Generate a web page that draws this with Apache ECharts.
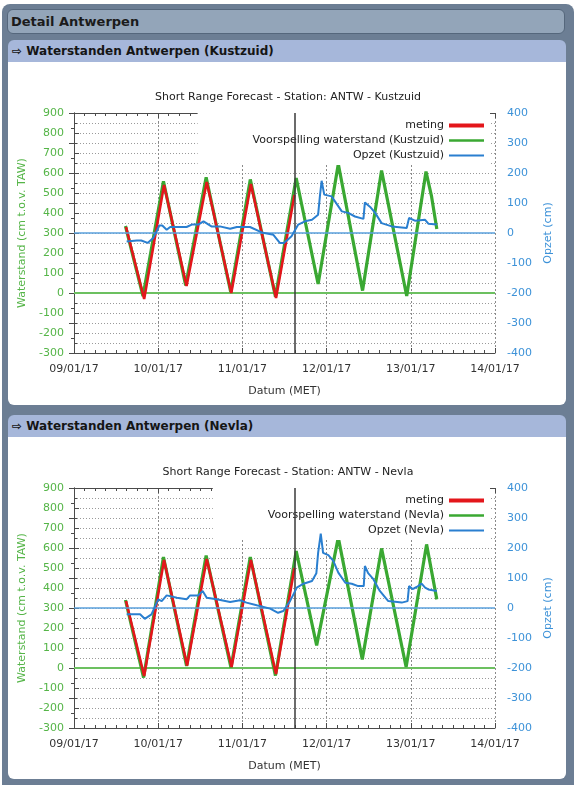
<!DOCTYPE html>
<html>
<head>
<meta charset="utf-8">
<script src="https://cdn.jsdelivr.net/npm/echarts@6/dist/echarts.min.js"></script>
<style>
  html, body { margin:0; padding:0; background:#ffffff; width:574px; height:785px; overflow:hidden; font-family:"DejaVu Sans", sans-serif; }
  .frame { position:absolute; left:2px; top:4px; width:572px; height:781px; background:#6c7e94; border-radius:8px 8px 0 0; }
  .hdr { position:absolute; left:7px; top:9px; width:558px; height:25px; background:#93a5b9; border:1px solid #55677c; border-radius:6px; font-weight:bold; font-size:13px; color:#1b1b1b; line-height:24px; padding-left:3px; box-sizing:border-box; }
  .sub { position:absolute; left:8px; width:558px; height:22px; background:#a6b7da; border-radius:6px 6px 0 0; font-weight:bold; font-size:12px; color:#151515; line-height:22px; padding-left:4px; box-sizing:border-box; }
  .panel { position:absolute; left:8px; width:558px; background:#ffffff; border-radius:0 0 6px 6px; }
  #chart { position:absolute; left:0; top:0; width:574px; height:785px; }
</style>
</head>
<body>
<div class="frame"></div>
<div class="hdr">Detail Antwerpen</div>
<div class="sub" style="top:40px;">&#8680; Waterstanden Antwerpen (Kustzuid)</div>
<div class="panel" style="top:62px;height:343px;"></div>
<div class="sub" style="top:415px;">&#8680; Waterstanden Antwerpen (Nevla)</div>
<div class="panel" style="top:437px;height:342px;"></div>
<div id="chart"></div>
<script>
// ---- tick labels ----
const dateLabels = ['09/01/17','10/01/17','11/01/17','12/01/17','13/01/17','14/01/17'];
const nowTime = '11 15:00';

// ---- Kustzuid ----
const kzMetingT = ['09 14:50','09 20:00','10 01:40','10 08:05','10 13:50','10 20:50','11 02:25','11 09:35','11 14:50'];
const kzMetingV = [330,-30,540,35,555,0,545,-25,490];
const kzVoorsT = ['09 14:40','09 19:40','10 01:30','10 07:50','10 13:40','10 20:40','11 02:15','11 09:25','11 15:20','11 21:35','12 03:20','12 10:15','12 15:40','12 22:50','13 04:20','13 05:55','13 07:25'];
const kzVoorsV = [335,-15,558,38,578,5,568,-18,575,45,645,12,612,-15,607,483,320];
const kzOpzetT = ['09 15:00','09 17:55','09 19:10','09 21:00','09 22:35','10 00:20','10 01:10','10 02:25','10 03:25','10 08:05','10 09:35','10 11:25','10 12:55','10 15:10','10 17:35','10 20:30','10 22:25','11 02:10','11 05:30','11 08:50','11 10:40','11 11:50','11 12:40','11 14:00','11 15:55','11 17:50','11 19:50','11 21:35','11 22:05','11 22:35','11 23:20','12 01:25','12 04:20','12 06:10','12 08:05','12 10:30','12 10:55','12 12:25','12 13:50','12 15:40','12 18:35','12 22:50','12 23:30','13 01:10','13 04:05','13 05:00','13 07:25'];
const kzOpzetV = [-28,-25,-25,-33,-17,25,25,11,20,20,28,28,39,22,22,14,20,20,2,-6,-33,-33,-25,-11,28,39,44,61,122,174,128,122,72,67,55,47,102,87,67,33,22,17,50,41,44,31,28];

// ---- Nevla ----
const nvMetingT = ['09 14:50','09 20:00','10 01:40','10 08:15','10 13:50','10 20:55','11 02:25','11 09:35','11 14:50'];
const nvMetingV = [335,-40,540,12,545,5,540,-30,500];
const nvVoorsT = ['09 14:40','09 19:50','10 01:30','10 08:05','10 13:40','10 20:45','11 02:15','11 09:25','11 15:20','11 21:10','12 03:20','12 10:10','12 15:40','12 22:40','13 04:30','13 07:25'];
const nvVoorsV = [340,-48,555,10,562,2,555,-38,585,113,652,43,598,5,618,343];
const nvOpzetT = ['09 15:00','09 18:50','09 20:10','09 22:05','10 00:00','10 01:00','10 02:25','10 05:20','10 08:05','10 09:05','10 11:25','10 12:40','10 13:50','10 16:40','10 20:30','10 23:20','11 01:10','11 04:05','11 07:55','11 10:10','11 11:40','11 12:10','11 13:35','11 15:30','11 17:25','11 19:50','11 21:05','11 21:35','11 22:20','11 23:00','12 00:30','12 01:55','12 03:20','12 05:20','12 07:10','12 09:00','12 10:35','12 10:55','12 11:50','12 13:20','12 15:10','12 17:35','12 21:25','12 23:05','12 23:30','13 00:30','13 01:40','13 03:05','13 04:05','13 05:00','13 07:25'];
const nvOpzetV = [-21,-21,-36,-21,29,23,42,34,29,42,42,57,34,29,20,26,18,9,-2,-16,-10,-12,23,68,81,90,116,184,248,184,176,157,118,84,81,73,73,140,116,96,57,23,18,23,73,63,70,81,68,62,57];

// hours since 09/01/17 00:00
function hrs(s){ const p = s.split(' '); const hm = p[1].split(':'); return (parseInt(p[0],10)-9)*24 + parseInt(hm[0],10) + parseInt(hm[1],10)/60; }
function pairs(T,V){ return T.map((t,i)=>[hrs(t),V[i]]); }

const FONT = 'DejaVu Sans';
const GREEN = '#3aa832', RED = '#e3161b', BLUE = '#2a7fd0';
const GREEN_TXT = '#55b548', BLUE_TXT = '#3d92d8';
const AX = '#4a4a4a';
const ICON_RED = 'path://M0,0M0,3L35,3L35,7L0,7ZM35,10';
const ICON_GREEN = 'path://M0,0M0,3.7L35,3.7L35,6.3L0,6.3ZM35,10';
const ICON_BLUE = 'path://M0,0M0,4L35,4L35,6L0,6ZM35,10';

function xAx(gi, bottom){
  return {
    type:'value', gridIndex:gi, min:0, max:120, interval:24, position: bottom?'bottom':'top',
    axisLine:{show:true, onZero:false, lineStyle:{color:AX, width:1}},
    axisTick:{show:true, inside:true, length:5, lineStyle:{color:AX}},
    minorTick:{show:true, splitNumber:8, length:3, lineStyle:{color:AX}},
    axisLabel:{show:bottom, color:'#333', fontFamily:FONT, fontSize:11, margin:11, formatter:v=>dateLabels[Math.round(v/24)]},
    splitLine:{show:bottom, lineStyle:{color:'#8a8a8a', type:[2,2], width:1}},
    name: bottom?'Datum (MET)':'', nameLocation:'middle', nameGap:33,
    nameTextStyle:{color:'#333', fontFamily:FONT, fontSize:11}
  };
}
function yLeft(gi){
  return {
    type:'value', gridIndex:gi, min:-300, max:900, interval:100, position:'left',
    axisLine:{show:true, lineStyle:{color:AX}},
    axisTick:{show:true, inside:true, length:5, lineStyle:{color:AX}},
    minorTick:{show:true, splitNumber:2, length:3, lineStyle:{color:AX}},
    axisLabel:{color:GREEN_TXT, fontFamily:FONT, fontSize:11, margin:10},
    splitLine:{show:true, lineStyle:{color:'#9a9a9a', type:[1,2], width:1}},
    minorSplitLine:{show:true, lineStyle:{color:'#9a9a9a', type:[1,2], width:1}},
    name:'Waterstand (cm t.o.v. TAW)', nameLocation:'middle', nameGap:45, nameRotate:90,
    nameTextStyle:{color:GREEN_TXT, fontFamily:FONT, fontSize:11}
  };
}
function yRight(gi){
  return {
    type:'value', gridIndex:gi, min:-400, max:400, interval:100, position:'right',
    axisLine:{show:true, lineStyle:{color:AX}},
    axisTick:{show:true, inside:true, length:5, lineStyle:{color:AX}},
    minorTick:{show:true, splitNumber:2, length:3, lineStyle:{color:AX}},
    axisLabel:{color:BLUE_TXT, fontFamily:FONT, fontSize:11, margin:12},
    splitLine:{show:false},
    name:'Opzet (cm)', nameLocation:'middle', nameGap:47, nameRotate:90,
    nameTextStyle:{color:BLUE_TXT, fontFamily:FONT, fontSize:11}
  };
}
function legend(top, names){
  return {
    orient:'vertical', top:top, right:84, align:'right',
    itemWidth:35, itemHeight:10, itemGap:4,
    padding:[7,6,4,55], backgroundColor:'#ffffff',
    textStyle:{color:'#222', fontFamily:FONT, fontSize:11},
    data:[{name:names[0], icon:ICON_RED},{name:names[1], icon:ICON_GREEN},{name:names[2], icon:ICON_BLUE}]
  };
}
function seriesSet(xi, yl, yr, mT, mV, vT, vV, oT, oV, vName, oName){
  return [
    {name:vName, type:'line', xAxisIndex:xi, yAxisIndex:yl, data:pairs(vT,vV), symbol:'none', showSymbol:false, z:3,
     lineStyle:{color:GREEN, width:3.2}, itemStyle:{color:GREEN},
     markLine:{silent:true, symbol:'none', label:{show:false}, lineStyle:{color:'#6cc060', width:2, type:'solid'}, data:[{yAxis:0}], z:1}},
    {name:'meting', type:'line', xAxisIndex:xi, yAxisIndex:yl, data:pairs(mT,mV), symbol:'none', showSymbol:false, z:4,
     lineStyle:{color:RED, width:2.6}, itemStyle:{color:RED},
     markLine:{silent:true, symbol:'none', label:{show:false}, lineStyle:{color:'#3a3a3a', width:1.5, type:'solid'}, data:[{xAxis:hrs(nowTime)}]}},
    {name:oName, type:'line', xAxisIndex:xi, yAxisIndex:yr, data:pairs(oT,oV), symbol:'none', showSymbol:false, z:5,
     lineStyle:{color:BLUE, width:2}, itemStyle:{color:BLUE},
     markLine:{silent:true, symbol:'none', label:{show:false}, lineStyle:{color:'#5aa0dc', width:1.5, type:'solid'}, data:[{yAxis:0}]}}
  ];
}

const chart = echarts.init(document.getElementById('chart'), null, {renderer:'canvas'});
chart.setOption({
  animation:false,
  backgroundColor:'transparent',
  title:[
    {text:'Short Range Forecast - Station: ANTW - Kustzuid', left:283, textAlign:'center', top:87, textStyle:{fontFamily:FONT, fontSize:11, fontWeight:'normal', color:'#222'}},
    {text:'Short Range Forecast - Station: ANTW - Nevla', left:283, textAlign:'center', top:462, textStyle:{fontFamily:FONT, fontSize:11, fontWeight:'normal', color:'#222'}}
  ],
  legend:[
    legend(113, ['meting','Voorspelling waterstand (Kustzuid)','Opzet (Kustzuid)']),
    legend(488, ['meting','Voorspelling waterstand (Nevla)','Opzet (Nevla)'])
  ],
  grid:[
    {left:74, top:113, width:421, height:240, containLabel:false},
    {left:74, top:488, width:421, height:240, containLabel:false}
  ],
  xAxis:[xAx(0,true), xAx(0,false), xAx(1,true), xAx(1,false)],
  yAxis:[yLeft(0), yRight(0), yLeft(1), yRight(1)],
  series:[].concat(
    seriesSet(0,0,1,kzMetingT,kzMetingV,kzVoorsT,kzVoorsV,kzOpzetT,kzOpzetV,'Voorspelling waterstand (Kustzuid)','Opzet (Kustzuid)'),
    seriesSet(2,2,3,nvMetingT,nvMetingV,nvVoorsT,nvVoorsV,nvOpzetT,nvOpzetV,'Voorspelling waterstand (Nevla)','Opzet (Nevla)')
  )
});
</script>
</body>
</html>
